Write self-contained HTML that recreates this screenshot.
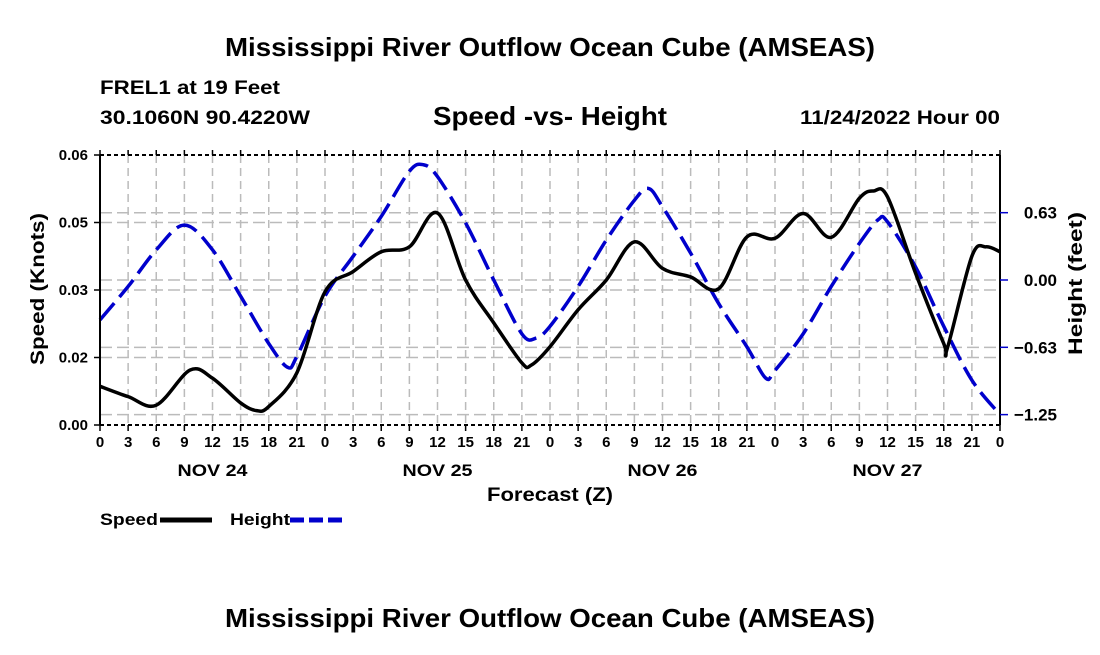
<!DOCTYPE html>
<html><head><meta charset="utf-8"><style>
body{margin:0;background:#fff;width:1100px;height:650px;overflow:hidden;font-family:"Liberation Sans",Arial,sans-serif}
svg text{font-family:"Liberation Sans",Arial,sans-serif;font-weight:bold;fill:#000}
</style></head><body>
<svg id="c" width="1100" height="650">
<text x="225" y="56" font-size="26" textLength="650" lengthAdjust="spacingAndGlyphs">Mississippi River Outflow Ocean Cube (AMSEAS)</text>
<text x="100" y="94" font-size="19" textLength="180" lengthAdjust="spacingAndGlyphs">FREL1 at 19 Feet</text>
<text x="100" y="124" font-size="19" textLength="210" lengthAdjust="spacingAndGlyphs">30.1060N  90.4220W</text>
<text x="433" y="125" font-size="26" textLength="234" lengthAdjust="spacingAndGlyphs">Speed -vs- Height</text>
<text x="800" y="124" font-size="19" textLength="200" lengthAdjust="spacingAndGlyphs">11/24/2022 Hour 00</text>
<g id="grid"></g>
<g id="series"></g>
<g id="axes"></g>
<text x="487" y="501" font-size="19" textLength="126" lengthAdjust="spacingAndGlyphs">Forecast (Z)</text>
<text transform="translate(44,365) rotate(-90)" font-size="19" textLength="152" lengthAdjust="spacingAndGlyphs">Speed (Knots)</text>
<text transform="translate(1082,355) rotate(-90)" font-size="19" textLength="143" lengthAdjust="spacingAndGlyphs">Height (feet)</text>
<g><text x="100" y="525" font-size="17" textLength="58" lengthAdjust="spacingAndGlyphs">Speed</text><line x1="160" y1="520" x2="212" y2="520" stroke="#000" stroke-width="5"/></g>
<g><text x="230" y="525" font-size="17" textLength="60" lengthAdjust="spacingAndGlyphs">Height</text><line x1="290" y1="520" x2="342" y2="520" stroke="#00c" stroke-width="5" stroke-dasharray="14,5"/></g>
<text x="225" y="627" font-size="26" textLength="650" lengthAdjust="spacingAndGlyphs">Mississippi River Outflow Ocean Cube (AMSEAS)</text>
</svg>
<script>
const speedHours=[0,3,6,9.6,12,15,16.7,18,21,24,27,30,33,36,39,42,45,46,48,51,54,57,60,63,66,69,72,75,78,81,82.5,84,87,90,90.4,93,94.5,96];
const speedValues=[0.0086,0.0063,0.0044,0.0122,0.0104,0.0049,0.0032,0.0041,0.0116,0.0296,0.0341,0.0385,0.0396,0.0471,0.0322,0.0227,0.0138,0.0133,0.0174,0.0256,0.0322,0.0407,0.0348,0.0329,0.0303,0.0418,0.0415,0.0470,0.0417,0.0504,0.0520,0.0507,0.0337,0.0181,0.0172,0.0375,0.0396,0.0385];
const heightHours=[0,3,6,9,12,15,18,20,21,24,27,30,33,34.5,36,39,42,45,46.5,48,51,54,57,58.5,60,63,66,69,71,72,75,78,81,83,84,87,90,93,96];
const heightValues=[-0.37,-0.06,0.28,0.51,0.28,-0.15,-0.59,-0.81,-0.71,-0.15,0.22,0.59,1.01,1.07,0.96,0.53,0,-0.50,-0.54,-0.43,-0.06,0.37,0.74,0.85,0.68,0.25,-0.22,-0.62,-0.91,-0.84,-0.50,-0.06,0.34,0.56,0.54,0.12,-0.43,-0.93,-1.25];
const leftTicks=[0,0.015,0.03,0.045,0.06];
const leftTickLabels=["0.00","0.02","0.03","0.05","0.06"];
const rightTicks=[0.625,0,-0.625,-1.25];
const rightTickLabels=["0.63","0.00","\u22120.63","\u22121.25"];
const dayLabels=["NOV 24","NOV 25","NOV 26","NOV 27"];
const dayCenters=[12,36,60,84];

const X0=100,X1=1000,Y0=155,Y1=425;
const xs=t=>X0+(X1-X0)*t/96;
const yL=v=>Y1-(Y1-Y0)*v/0.06;
const yR=h=>280-107.7*h;
const NS="http://www.w3.org/2000/svg";
function mk(tag,attrs,parent){const e=document.createElementNS(NS,tag);for(const k in attrs)e.setAttribute(k,attrs[k]);parent.appendChild(e);return e;}
const grid=document.getElementById('grid'),axes=document.getElementById('axes'),series=document.getElementById('series');
for(let t=3;t<96;t+=3){const l=mk('line',{x1:xs(t),x2:xs(t),y1:Y0,y2:Y1,stroke:'#bbb','stroke-width':1.5,'stroke-dasharray':'8,5'},grid);

}
leftTicks.slice(1,-1).forEach(v=>{const l=mk('line',{x1:X0,x2:X1,y1:yL(v),y2:yL(v),stroke:'#bbb','stroke-width':1.5,'stroke-dasharray':'12,5'},grid);

});
rightTicks.forEach(h=>{const l=mk('line',{x1:X0,x2:X1,y1:yR(h),y2:yR(h),stroke:'#bbb','stroke-width':1.5,'stroke-dasharray':'12,5'},grid);

});
mk('line',{x1:X0,x2:X0,y1:Y0,y2:Y1,stroke:'#000','stroke-width':2},axes);
mk('line',{x1:X1,x2:X1,y1:Y0,y2:Y1,stroke:'#000','stroke-width':2},axes);
mk('line',{x1:X0,x2:X1,y1:Y0,y2:Y0,stroke:'#000','stroke-width':2,'stroke-dasharray':'4,3'},axes);
mk('line',{x1:X0,x2:X1,y1:Y1,y2:Y1,stroke:'#000','stroke-width':2,'stroke-dasharray':'4,3'},axes);
for(let t=0;t<=96;t+=3){mk('line',{x1:xs(t),x2:xs(t),y1:Y1,y2:Y1+6,stroke:'#000','stroke-width':1.5},axes);
mk('line',{x1:xs(t),x2:xs(t),y1:Y0,y2:Y0-5,stroke:'#000','stroke-width':1.5},axes);
const tx=mk('text',{x:xs(t),y:Y1+22,'font-size':15,'text-anchor':'middle'},axes);tx.textContent=String(t%24);

}
dayLabels.forEach((d,i)=>{const tx=mk('text',{x:xs(dayCenters[i])-35,y:Y1+51,'font-size':17,textLength:70,lengthAdjust:'spacingAndGlyphs'},axes);tx.textContent=d;

});
leftTicks.forEach((v,i)=>{mk('line',{x1:X0-6,x2:X0,y1:yL(v),y2:yL(v),stroke:'#000','stroke-width':1.5},axes);
const tx=mk('text',{x:X0-12,y:yL(v)+5,'font-size':15,'text-anchor':'end'},axes);tx.textContent=leftTickLabels[i];

});
rightTicks.forEach((h,i)=>{mk('line',{x1:X1,x2:X1+8,y1:yR(h),y2:yR(h),stroke:'#00c','stroke-width':1.5},axes);
const tx=mk('text',{x:1057,y:yR(h)+6,'font-size':17,'text-anchor':'end'},axes);tx.textContent=rightTickLabels[i];

});
function smooth(pts){let d=`M${pts[0][0]},${pts[0][1]}`;for(let i=0;i<pts.length-1;i++){const p0=pts[Math.max(0,i-1)],p1=pts[i],p2=pts[i+1],p3=pts[Math.min(pts.length-1,i+2)];
const c1=[p1[0]+(p2[0]-p0[0])/6,p1[1]+(p2[1]-p0[1])/6],c2=[p2[0]-(p3[0]-p1[0])/6,p2[1]-(p3[1]-p1[1])/6];
d+=` C${c1[0]},${c1[1]} ${c2[0]},${c2[1]} ${p2[0]},${p2[1]}`;}return d;}
const hp=mk('path',{d:smooth(heightHours.map((t,i)=>[xs(t),yR(heightValues[i])])),fill:'none',stroke:'#00c','stroke-width':3.5,'stroke-dasharray':'22,8'},series);


const sp=mk('path',{d:smooth(speedHours.map((t,i)=>[xs(t),yL(speedValues[i])])),fill:'none',stroke:'#000','stroke-width':3.5},series);


</script>
</body></html>
